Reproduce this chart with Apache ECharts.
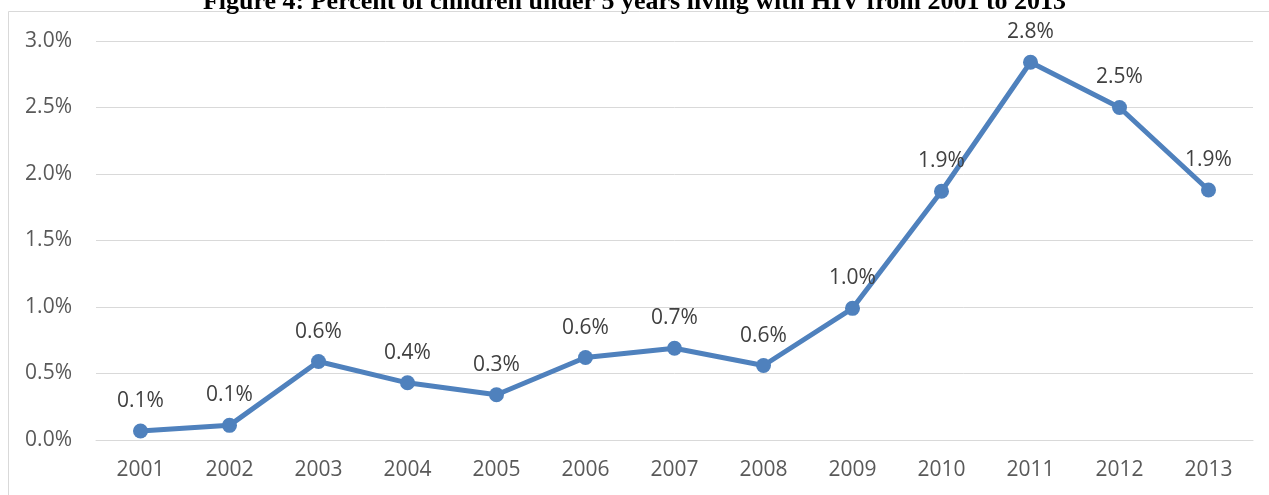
<!DOCTYPE html>
<html>
<head>
<meta charset="utf-8">
<script src="https://cdn.jsdelivr.net/npm/echarts@6/dist/echarts.min.js"></script>
<style>
html,body{margin:0;padding:0;background:#fff;}
#c{width:1269px;height:495px;}
</style>
</head>
<body>
<div id="c"></div>
<script>
const titleText = 'Figure 4: Percent of children under 5 years living with HIV from 2001 to 2013';
const years = ['2001','2002','2003','2004','2005','2006','2007','2008','2009','2010','2011','2012','2013'];
const percentValues = [0.068, 0.11, 0.59, 0.43, 0.34, 0.62, 0.69, 0.56, 0.99, 1.87, 2.84, 2.50, 1.88];
const yTicks = [0, 0.5, 1.0, 1.5, 2.0, 2.5, 3.0];

const chart = echarts.init(document.getElementById('c'), null, {renderer:'canvas'});
const font = 'Open Sans';
chart.setOption({
  animation: false,
  backgroundColor: '#fff',
  title: {
    text: titleText,
    left: 'center',
    top: -16,
    textStyle: {fontFamily: 'Liberation Serif', fontWeight: 'bold', fontSize: 26, color: '#000'}
  },
  graphic: [{
    type: 'rect',
    shape: {x: 8.5, y: 11.5, width: 1300, height: 600},
    style: {fill: 'none', stroke: '#d9d9d9', lineWidth: 1},
    silent: true,
    z: -1
  }],
  grid: {left: 96, right: 16, top: 41, bottom: 55, containLabel: false},
  xAxis: {
    type: 'category',
    data: years,
    boundaryGap: true,
    axisLine: {show: true, lineStyle: {color: '#d9d9d9', width: 1}},
    axisTick: {show: false},
    axisLabel: {color: '#595959', fontFamily: font, fontSize: 21, margin: 20}
  },
  yAxis: {
    type: 'value',
    min: yTicks[0],
    max: yTicks[yTicks.length - 1],
    interval: 0.5,
    axisLine: {show: false},
    axisTick: {show: false},
    splitLine: {lineStyle: {color: '#d9d9d9', width: 1}},
    axisLabel: {color: '#595959', fontFamily: font, fontSize: 21, margin: 24,
      formatter: v => v.toFixed(1) + '%'}
  },
  series: [{
    type: 'line',
    data: percentValues,
    symbol: 'circle',
    symbolSize: 15,
    lineStyle: {color: '#4f81bd', width: 5},
    itemStyle: {color: '#4f81bd'},
    label: {
      show: true,
      position: 'top',
      distance: 12,
      color: '#404040',
      fontFamily: font,
      fontSize: 21,
      formatter: p => p.value.toFixed(1) + '%'
    }
  }]
});
</script>
</body>
</html>
